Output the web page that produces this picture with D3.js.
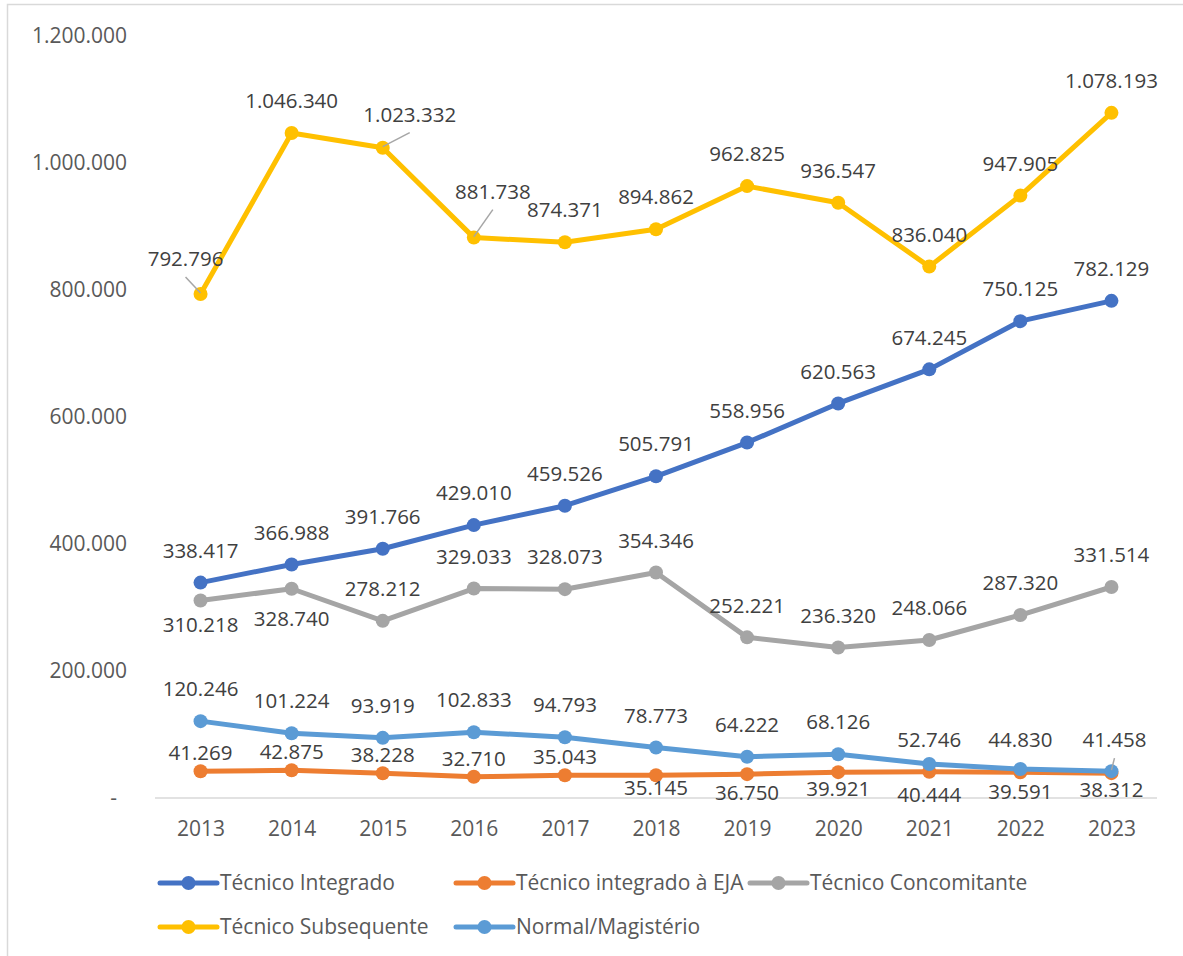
<!DOCTYPE html>
<html>
<head>
<meta charset="utf-8">
<script src="https://cdn.jsdelivr.net/npm/d3@7"></script>
<style>
  body { margin: 0; background: #fff; }
  svg { display: block; }
  text { font-family: "Open Sans", sans-serif; }
</style>
</head>
<body>
<svg id="chart" width="1183" height="956"></svg>
<script>
// Matrículas na educação profissional por tipo de oferta, 2013–2023
const years = ["2013", "2014", "2015", "2016", "2017", "2018", "2019", "2020", "2021", "2022", "2023"];

const tecnicoIntegrado    = [338417, 366988, 391766, 429010, 459526, 505791, 558956, 620563, 674245, 750125, 782129];
const tecnicoIntegradoEJA = [41269, 42875, 38228, 32710, 35043, 35145, 36750, 39921, 40444, 39591, 38312];
const tecnicoConcomitante = [310218, 328740, 278212, 329033, 328073, 354346, 252221, 236320, 248066, 287320, 331514];
const tecnicoSubsequente  = [792796, 1046340, 1023332, 881738, 874371, 894862, 962825, 936547, 836040, 947905, 1078193];
const normalMagisterio    = [120246, 101224, 93919, 102833, 94793, 78773, 64222, 68126, 52746, 44830, 41458];

const seriesNames = ["Técnico Integrado", "Técnico integrado à EJA", "Técnico Concomitante", "Técnico Subsequente", "Normal/Magistério"];
const seriesValues = [tecnicoIntegrado, tecnicoIntegradoEJA, tecnicoConcomitante, tecnicoSubsequente, normalMagisterio];
const seriesColors = ["#4472C4", "#ED7D31", "#A5A5A5", "#FFC000", "#5B9BD5"];

const yTicks = [0, 200000, 400000, 600000, 800000, 1000000, 1200000];

// Label placement: default sits above the marker; exceptions per point index
const labelDefaultDy = -32;
const labelOverrides = {
  "Técnico integrado à EJA": {
    0: { dy: -18 }, 1: { dy: -18 }, 2: { dy: -18 }, 3: { dy: -18 }, 4: { dy: -18 },
    5: { dy: 13 }, 6: { dy: 19 }, 7: { dy: 17 }, 8: { dy: 23 }, 9: { dy: 19 }, 10: { dy: 17 }
  },
  "Técnico Concomitante": { 0: { dy: 24 }, 1: { dy: 30 } },
  "Técnico Subsequente": {
    0: { dx: -15, dy: -35, leader: true },
    2: { dx: 27, dy: -33, leader: true },
    3: { dx: 19, dy: -46, leader: true }
  },
  "Normal/Magistério": { 8: { dy: -24 }, 9: { dy: -29 }, 10: { dx: 3, dy: -31, leader: true } }
};

const ptBR = d3.formatLocale({ decimal: ",", thousands: ".", grouping: [3], currency: ["R$", ""] });
const fmt = ptBR.format(",d");

const svg = d3.select("#chart");
const W = 1183, H = 956;

// chart frame (left and top edges)
svg.append("path")
  .attr("d", `M7.5,${H} V4.5 H${W}`)
  .attr("fill", "none")
  .attr("stroke", "#D9D9D9")
  .attr("stroke-width", 1.5);

const x = d3.scalePoint().domain(years).range([155, 1157]).padding(0.5);
const y = d3.scaleLinear().domain([0, 1200000]).range([797.5, 35.5]);

// y axis labels
const yAxis = d3.axisLeft(y).tickValues(yTicks).tickSize(0).tickPadding(0)
  .tickFormat(d => d === 0 ? "-" : fmt(d));
const gy = svg.append("g").attr("transform", "translate(127,0)").call(yAxis);
gy.select(".domain").remove();
gy.selectAll("text")
  .attr("fill", "#595959")
  .attr("font-size", 21)
  .attr("font-family", "'Open Sans', sans-serif")
  .attr("dx", d => d === 0 ? -10 : 0);

// x axis baseline and labels
svg.append("line")
  .attr("x1", 155).attr("x2", 1157)
  .attr("y1", y(0) + 0.5).attr("y2", y(0) + 0.5)
  .attr("stroke", "#D9D9D9").attr("stroke-width", 1.5);

const xAxis = d3.axisBottom(x).tickSize(0).tickPadding(0);
const gx = svg.append("g").attr("transform", "translate(0,828.5)").call(xAxis);
gx.select(".domain").remove();
gx.selectAll("text")
  .attr("fill", "#595959")
  .attr("font-size", 21)
  .attr("font-family", "'Open Sans', sans-serif")
  .attr("dy", "0.35em")
  .attr("y", 0);

// series lines and markers
const line = d3.line().x((d, i) => x(years[i])).y(d => y(d));

seriesNames.forEach((name, s) => {
  const vals = seriesValues[s];
  const g = svg.append("g");
  g.append("path")
    .attr("d", line(vals))
    .attr("fill", "none")
    .attr("stroke", seriesColors[s])
    .attr("stroke-width", 5)
    .attr("stroke-linejoin", "round")
    .attr("stroke-linecap", "round");
  g.selectAll("circle").data(vals).join("circle")
    .attr("cx", (d, i) => x(years[i]))
    .attr("cy", d => y(d))
    .attr("r", 7)
    .attr("fill", seriesColors[s]);
});

// data labels (drawn above all series)
seriesNames.forEach((name, s) => {
  const vals = seriesValues[s];
  const over = labelOverrides[name] || {};
  const g = svg.append("g");
  vals.forEach((v, i) => {
    const o = over[i] || {};
    const px = x(years[i]), py = y(v);
    const lx = px + (o.dx || 0);
    const ly = py + (o.dy !== undefined ? o.dy : labelDefaultDy);
    if (o.leader) {
      g.append("line")
        .attr("x1", lx).attr("y1", ly + 18)
        .attr("x2", px).attr("y2", py - 1)
        .attr("stroke", "#A6A6A6").attr("stroke-width", 1.5);
    }
    g.append("text")
      .attr("x", lx).attr("y", ly)
      .attr("dy", "0.35em")
      .attr("text-anchor", "middle")
      .attr("font-size", 20.5)
      .attr("fill", "#404040")
      .text(fmt(v));
  });
});

// legend
const legendItems = [
  { s: 0, x: 160, y: 883 }, { s: 1, x: 456, y: 883 }, { s: 2, x: 750, y: 883 },
  { s: 3, x: 160, y: 927 }, { s: 4, x: 456, y: 927 }
];
const lg = svg.append("g");
legendItems.forEach(it => {
  const c = seriesColors[it.s];
  lg.append("line")
    .attr("x1", it.x).attr("x2", it.x + 57)
    .attr("y1", it.y).attr("y2", it.y)
    .attr("stroke", c).attr("stroke-width", 5).attr("stroke-linecap", "round");
  lg.append("circle").attr("cx", it.x + 28.5).attr("cy", it.y).attr("r", 7).attr("fill", c);
  lg.append("text")
    .attr("x", it.x + 60).attr("y", it.y)
    .attr("dy", "0.35em")
    .attr("font-size", 21)
    .attr("fill", "#595959")
    .text(seriesNames[it.s]);
});
</script>
</body>
</html>
